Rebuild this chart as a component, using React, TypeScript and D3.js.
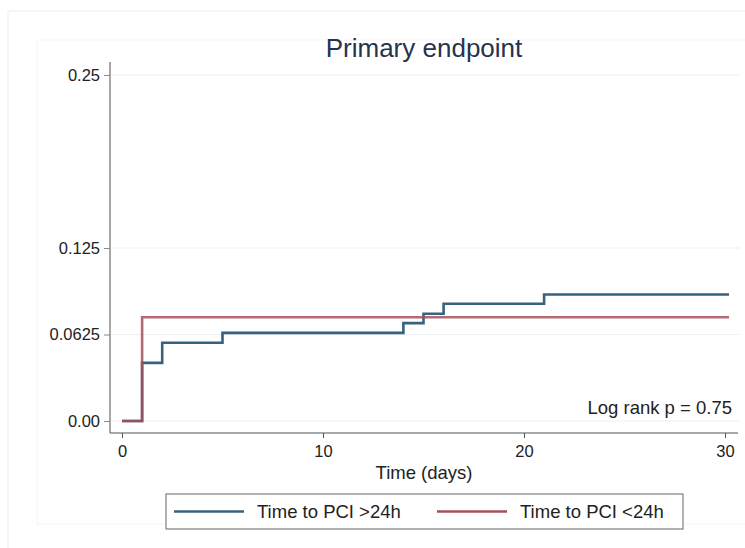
import React, { useEffect, useRef } from 'react';
import * as d3 from 'd3';

// Kaplan-Meier style cumulative incidence
const blueTimes = [0, 1, 2, 5, 14, 15, 16, 21, 30.2];
const blueRisk = [0, 0.042, 0.0565, 0.0637, 0.0707, 0.0775, 0.0847, 0.0914, 0.0914];
const redTimes = [0, 1, 30.2];
const redRisk = [0, 0.075, 0.075];

const xTicks = [0, 10, 20, 30];
const yTicks = [0, 0.0625, 0.125, 0.25];
const yTickLabels = ['0.00', '0.0625', '0.125', '0.25'];
const seriesNames = ['Time to PCI >24h', 'Time to PCI <24h'];

const BLUE = '#37627f';
const RED = '#a4505a';
const FONT = '"Liberation Sans", Arial, Helvetica, sans-serif';

export default function App() {
  const ref = useRef<SVGSVGElement>(null);

  useEffect(() => {
    const svg = d3.select(ref.current);
    svg.selectAll('*').remove();

    const x = d3.scaleLinear().domain([0, 30]).range([122, 725]);
    const y = d3.scaleLinear().domain([0, 0.25]).range([421, 75]);

    // faint graph-region frames
    svg.append('rect').attr('x', 8).attr('y', 11).attr('width', 745).attr('height', 560)
      .attr('fill', 'none').attr('stroke', '#f0f0f0');
    svg.append('rect').attr('x', 37).attr('y', 40).attr('width', 720).attr('height', 484)
      .attr('fill', 'none').attr('stroke', '#f5f5f5');

    // gridlines
    svg.append('g').selectAll('line').data(yTicks).enter().append('line')
      .attr('x1', 111).attr('x2', 740)
      .attr('y1', d => y(d)).attr('y2', d => y(d))
      .attr('stroke', '#edf1f1').attr('stroke-width', 1);

    // y axis
    const yAxis = d3.axisLeft(y).tickValues(yTicks)
      .tickFormat((d, i) => yTickLabels[i]).tickSize(6).tickPadding(4);
    const gy = svg.append('g').attr('transform', 'translate(110,0)').call(yAxis);
    gy.select('.domain').attr('d', 'M0,62V433').attr('stroke', '#8a8a8a').attr('stroke-width', 1.5);
    gy.selectAll('.tick line').attr('stroke', '#8a8a8a');
    gy.selectAll('.tick text').attr('font-family', FONT).attr('font-size', 16.5).attr('fill', '#222');

    // x axis
    const xAxis = d3.axisBottom(x).tickValues(xTicks).tickSize(5).tickPadding(7);
    const gx = svg.append('g').attr('transform', 'translate(0,433)').call(xAxis);
    gx.select('.domain').attr('d', 'M110,0H738').attr('stroke', '#555').attr('stroke-width', 1.2);
    gx.selectAll('.tick line').attr('stroke', '#555');
    gx.selectAll('.tick text').attr('font-family', FONT).attr('font-size', 16.5).attr('fill', '#222');

    const line = d3.line<[number, number]>()
      .x(d => x(d[0])).y(d => y(d[1])).curve(d3.curveStepAfter);

    const blue = blueTimes.map((t, i) => [t, blueRisk[i]] as [number, number]);
    const red = redTimes.map((t, i) => [t, redRisk[i]] as [number, number]);

    svg.append('path').attr('d', line(blue)).attr('fill', 'none')
      .attr('stroke', BLUE).attr('stroke-width', 2.6);
    svg.append('path').attr('d', line(red)).attr('fill', 'none')
      .attr('stroke', RED).attr('stroke-width', 2.6).attr('stroke-opacity', 0.85);

    // title
    svg.append('text').attr('x', 424).attr('y', 57).attr('text-anchor', 'middle')
      .attr('font-family', FONT).attr('font-size', 26).attr('fill', '#26334f')
      .text('Primary endpoint');

    // annotation
    svg.append('text').attr('x', 732).attr('y', 414).attr('text-anchor', 'end')
      .attr('font-family', FONT).attr('font-size', 18.5).attr('fill', '#222')
      .text('Log rank p = 0.75');

    // x title
    svg.append('text').attr('x', 424).attr('y', 479).attr('text-anchor', 'middle')
      .attr('font-family', FONT).attr('font-size', 18.5).attr('fill', '#222')
      .text('Time (days)');

    // legend
    svg.append('rect').attr('x', 166).attr('y', 494).attr('width', 517).attr('height', 35)
      .attr('fill', '#fff').attr('stroke', '#666').attr('stroke-width', 1);
    const legendX = [174, 437];
    const colors = [BLUE, RED];
    seriesNames.forEach((name, i) => {
      svg.append('line').attr('x1', legendX[i]).attr('x2', legendX[i] + 70)
        .attr('y1', 511.5).attr('y2', 511.5)
        .attr('stroke', colors[i]).attr('stroke-width', 2.6);
      svg.append('text').attr('x', legendX[i] + 83).attr('y', 518)
        .attr('font-family', FONT).attr('font-size', 18.5).attr('fill', '#222')
        .text(name);
    });
  }, []);

  return (
    <svg ref={ref} width={745} height={548}
      style={{ position: 'absolute', left: 0, top: 0, background: '#fff' }} />
  );
}
